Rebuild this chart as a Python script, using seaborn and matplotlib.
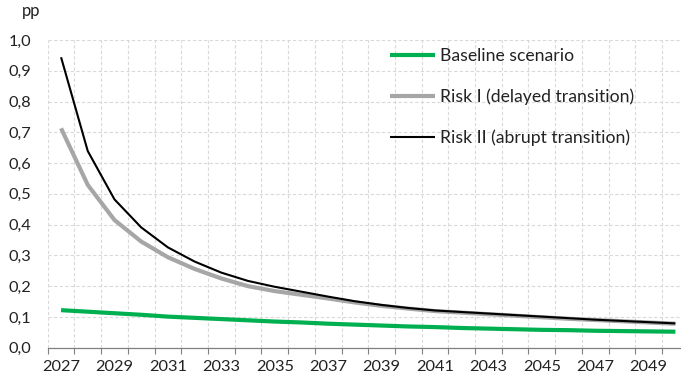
import numpy as np
import pandas as pd
import matplotlib
matplotlib.use("Agg")
import matplotlib.pyplot as plt
import seaborn as sns

years = list(range(2027, 2051))
baseline = [0.122, 0.117, 0.112, 0.107, 0.101, 0.097, 0.093, 0.089, 0.085, 0.082,
            0.078, 0.075, 0.072, 0.069, 0.067, 0.064, 0.062, 0.060, 0.058, 0.057,
            0.055, 0.054, 0.053, 0.052]
risk1 = [0.713, 0.529, 0.415, 0.345, 0.294, 0.256, 0.225, 0.200, 0.184, 0.172,
         0.160, 0.147, 0.136, 0.127, 0.119, 0.114, 0.109, 0.104, 0.099, 0.094,
         0.090, 0.086, 0.082, 0.078]
risk2 = [0.944, 0.639, 0.482, 0.391, 0.326, 0.280, 0.244, 0.217, 0.198, 0.182,
         0.166, 0.151, 0.139, 0.129, 0.121, 0.116, 0.111, 0.106, 0.101, 0.096,
         0.091, 0.087, 0.083, 0.079]
series_names = ["Baseline scenario", "Risk I (delayed transition)", "Risk II (abrupt transition)"]
yticks = [0.0, 0.1, 0.2, 0.3, 0.4, 0.5, 0.6, 0.7, 0.8, 0.9, 1.0]
ylabel_unit = "pp"

colors = {series_names[0]: "#00B050", series_names[1]: "#A6A6A6", series_names[2]: "#000000"}
widths = {series_names[0]: 3.0, series_names[1]: 3.0, series_names[2]: 1.5}

sns.set_theme(style="white")
plt.rcParams['font.family'] = ['Lato', 'DejaVu Sans']

pos = np.arange(len(years))
frames = []
for name, vals in zip(series_names, [baseline, risk1, risk2]):
    frames.append(pd.DataFrame({"pos": pos, "value": vals, "series": name}))
df = pd.concat(frames, ignore_index=True)

fig = plt.figure(figsize=(6.81, 3.83), dpi=100)
ax = fig.add_axes([47.7 / 681, 35.3 / 383, 1 - 47.7 / 681, (347.7 - 40) / 383])

for name in series_names:
    sub = df[df["series"] == name]
    sns.lineplot(data=sub, x="pos", y="value", color=colors[name], linewidth=widths[name],
                 ax=ax, label=name, solid_capstyle="butt")

ax.set_xlabel("")
ax.set_ylabel("")

ax.set_xticks(pos[::2])
ax.set_xticklabels([str(y) for y in years[::2]])
ax.set_xticks(np.arange(-0.5, len(years) + 0.5, 1), minor=True)
ax.set_yticks(yticks)
ax.set_yticklabels([f"{v:.1f}".replace(".", ",") for v in yticks])
ax.set_xlim(-0.5, (681 - 47.7) / 26.71 - 0.5)
ax.set_ylim(0, 1.0)

ax.tick_params(axis="x", which="major", length=0, pad=9, labelsize=11.8, colors="#222222")
ax.tick_params(axis="x", which="minor", length=4, width=0.8, color="#808080", direction="out", bottom=True)
ax.tick_params(axis="y", length=0, pad=12, labelsize=11.8, colors="#222222")

ax.grid(False)
ax.grid(True, axis="y", which="major", color="#D9D9D9", linestyle=(0, (3, 2)), linewidth=0.8)
ax.grid(True, axis="x", which="minor", color="#D9D9D9", linestyle=(0, (3, 2)), linewidth=0.8)
ax.set_axisbelow(True)

for s in ["top", "right", "left"]:
    ax.spines[s].set_visible(False)
ax.spines["bottom"].set_color("#808080")
ax.spines["bottom"].set_linewidth(0.9)

leg = ax.legend(loc="upper left", bbox_to_anchor=((390 - 47.7) / (681 - 47.7), (347.7 - 48) / 307.7),
                frameon=False, fontsize=12.7, handlelength=2.55, handletextpad=0.28,
                labelspacing=1.38, borderaxespad=0, borderpad=0)
for t in leg.get_texts():
    t.set_color("#222222")

fig.text(22 / 681, 1 - 16 / 383, ylabel_unit, fontsize=12, color="#222222", va="baseline", ha="left")

fig.savefig("out.png", dpi=100)
